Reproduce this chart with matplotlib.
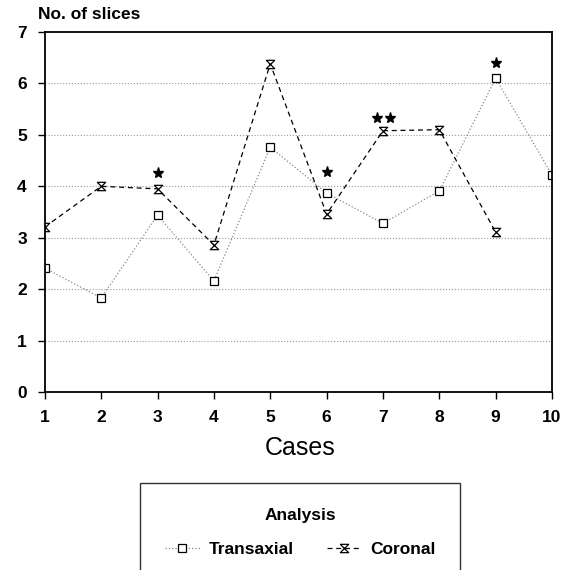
import matplotlib
matplotlib.use('Agg')
import matplotlib.pyplot as plt

plt.rcParams['font.family'] = ['Liberation Sans', 'DejaVu Sans']

# cases on the x axis
cases = [1, 2, 3, 4, 5, 6, 7, 8, 9, 10]
# number of slices per analysis
transaxial = [2.41, 1.83, 3.44, 2.16, 4.76, 3.87, 3.28, 3.91, 6.1, 4.22]
coronal_cases = [1, 2, 3, 4, 5, 6, 7, 8, 9]
coronal = [3.21, 4.0, 3.95, 2.86, 6.38, 3.46, 5.08, 5.1, 3.11]
# significance stars (x, y)
star_x = [3, 6, 6.9, 7.12, 9]
star_y = [4.26, 4.28, 5.33, 5.33, 6.4]

hourglass = [(-1, 1), (1, 1), (-1, -1), (1, -1), (-1, 1)]

fig = plt.figure(figsize=(5.75, 5.7), dpi=100)
ax = fig.add_axes([0.078, 0.312, 0.882, 0.632])

ax.plot(cases, transaxial, color='#888888', linestyle=':', linewidth=0.9,
        marker='s', markersize=6, markerfacecolor='white',
        markeredgecolor='black', markeredgewidth=0.9, label='Transaxial')
ax.plot(coronal_cases, coronal, color='black', linestyle=(0, (4, 3)), linewidth=0.9,
        marker=hourglass, markersize=6, markerfacecolor='white',
        markeredgecolor='black', markeredgewidth=0.9, label='Coronal')
ax.plot(star_x, star_y, linestyle='none', marker='*', markersize=8, color='black')

ax.set_xlim(1, 10)
ax.set_ylim(0, 7)
ax.set_xticks(cases)
ax.set_yticks(range(0, 8))
for y in range(1, 7):
    ax.axhline(y, color='#999999', linestyle=':', linewidth=0.8, zorder=0)

ax.tick_params(direction='out', length=5, width=1, labelsize=12.5, pad=8)
for lab in ax.get_xticklabels() + ax.get_yticklabels():
    lab.set_fontweight('bold')
for s in ax.spines.values():
    s.set_linewidth(1.3)

fig.text(0.066, 0.975, 'No. of slices', fontsize=12.5, fontweight='bold', va='center')
fig.text(0.522, 0.214, 'Cases', fontsize=18, ha='center', va='center')

# legend box runs past the bottom edge, as in the scan
leg = fig.legend(loc='upper center', bbox_to_anchor=(0.522, 0.153), ncol=2,
                 title='Analysis', frameon=True, fancybox=False,
                 edgecolor='black', borderpad=1.45, borderaxespad=0,
                 handlelength=2.0, handletextpad=0.5, columnspacing=1.9,
                 labelspacing=1.1,
                 prop={'size': 12.5, 'weight': 'bold'},
                 title_fontproperties={'size': 12.5, 'weight': 'bold'})
leg.get_frame().set_linewidth(1.0)

fig.savefig('out.png', dpi=100)
